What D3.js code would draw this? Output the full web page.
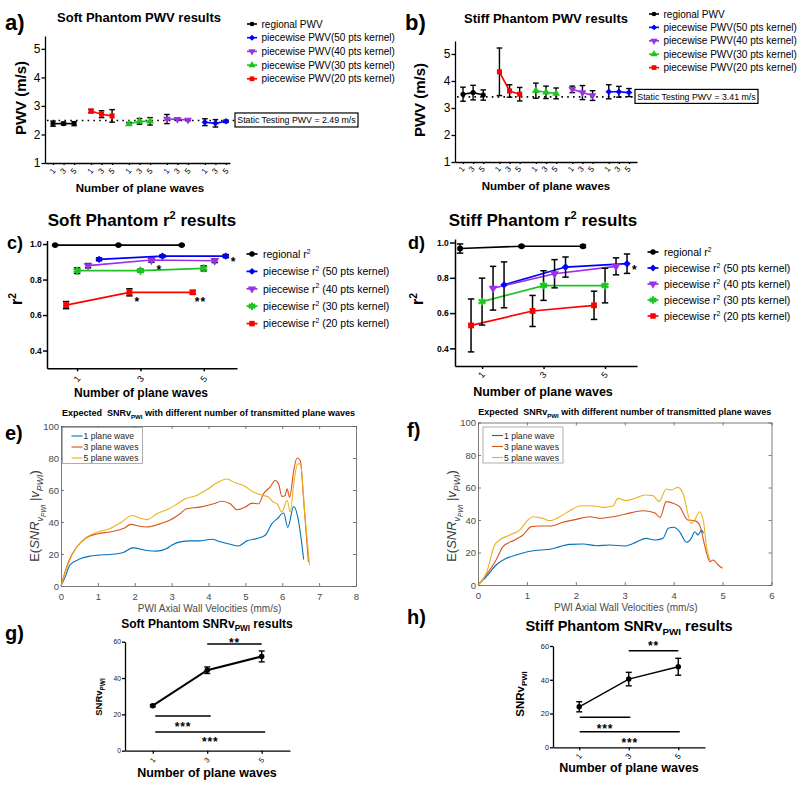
<!DOCTYPE html>
<html><head><meta charset="utf-8">
<script src="https://cdn.jsdelivr.net/npm/d3@7"></script>
<style>
body{margin:0;background:#fff}
svg{display:block}
</style>
</head><body>
<svg id="chart" width="800" height="785"></svg>
<script>
// ================= DATA =================
const planeWaves = [1, 3, 5];
// series order: regional, 50, 40, 30, 20 pts kernel
const pwvLegend = ["regional PWV", "piecewise PWV(50 pts kernel)", "piecewise PWV(40 pts kernel)", "piecewise PWV(30 pts kernel)", "piecewise PWV(20 pts kernel)"];
const r2LegendPrefix = ["regional r", "piecewise r", "piecewise r", "piecewise r", "piecewise r"];
const r2LegendSuffix = ["", " (50 pts kernel)", " (40 pts kernel)", " (30 pts kernel)", " (20 pts kernel)"];

const softPWVMean  = [[2.38, 2.38, 2.38], [2.43, 2.39, 2.46], [2.54, 2.53, 2.51], [2.37, 2.46, 2.46], [2.82, 2.71, 2.65]];
const softPWVErr   = [[0.09, 0.05, 0.07], [0.12, 0.13, 0.04], [0.16, 0.03, 0.03], [0.05, 0.10, 0.13], [0.06, 0.12, 0.22]];
const stiffPWVMean = [[3.51, 3.57, 3.48], [3.60, 3.60, 3.57], [3.69, 3.57, 3.46], [3.64, 3.58, 3.54], [4.34, 3.63, 3.51]];
const stiffPWVErr  = [[0.26, 0.27, 0.19], [0.26, 0.20, 0.15], [0.12, 0.26, 0.18], [0.28, 0.23, 0.20], [0.88, 0.23, 0.25]];
const staticPWV = [2.49, 3.41];
const staticLabels = ["Static Testing PWV = 2.49 m/s", "Static Testing PWV = 3.41 m/s"];
const pwvTicks = [1, 2, 3, 4, 5];

const softR2Mean  = [[0.994, 0.994, 0.994], [0.914, 0.932, 0.932], [0.878, 0.910, 0.906], [0.850, 0.850, 0.863], [0.656, 0.728, 0.728]];
const softR2Err   = [[0.003, 0.003, 0.003], [0.008, 0.007, 0.009], [0.012, 0.012, 0.010], [0.016, 0.008, 0.014], [0.020, 0.020, 0.010]];
const stiffR2Mean = [[0.966, 0.979, 0.979], [0.760, 0.861, 0.880], [0.741, 0.823, 0.865], [0.665, 0.756, 0.756], [0.530, 0.612, 0.644]];
const stiffR2Err  = [[0.026, 0.005, 0.007], [0.130, 0.057, 0.055], [0.124, 0.080, 0.048], [0.133, 0.084, 0.098], [0.150, 0.088, 0.080]];
const r2Ticks = [0.4, 0.6, 0.8, 1.0];
const softR2Stars  = [[1, 2, "*"], [2, 1, "*"], [4, 1, "*"], [4, 2, "**"]];
const stiffR2Stars = [[1, 2, "*"]];

const snrLegend = ["1 plane wave", "3 plane waves", "5 plane waves"];
const softSNR1 = [[0,0],[0.12,6],[0.24,13],[0.52,17],[0.79,18.7],[1.0,19.3],[1.33,19.7],[1.69,21],[1.95,23.8],[2.33,22.2],[2.6,21.8],[2.87,23.4],[3.0,25.5],[3.23,27.6],[3.5,28.2],[3.77,28.2],[4.09,29.2],[4.32,27.6],[4.59,26.1],[4.81,25],[5.04,28.2],[5.31,29.6],[5.54,31.7],[5.72,39],[5.86,42],[6.04,45.6],[6.15,36.6],[6.31,49.7],[6.43,42],[6.53,26.5],[6.58,16.6]];
const softSNR3 = [[0,0],[0.2,15],[0.43,24.5],[0.7,30.3],[1.0,32.7],[1.33,33.8],[1.69,35.9],[1.9,38.5],[2.1,37.5],[2.33,36.9],[2.64,38.5],[3.0,41.7],[3.23,45.2],[3.41,48.3],[3.77,49.3],[4.14,51.4],[4.36,53],[4.59,51.4],[4.77,47.7],[5.0,49.3],[5.18,51.8],[5.36,51.4],[5.49,57.6],[5.67,61.8],[5.81,65.9],[5.9,63.8],[5.99,56],[6.08,56.6],[6.13,60.7],[6.2,55.5],[6.31,72],[6.4,80],[6.49,78.3],[6.58,53.5],[6.71,15]];
const softSNR5 = [[0,0],[0.2,14],[0.43,24.5],[0.7,30.7],[1.0,33.8],[1.33,35.9],[1.65,40],[1.92,44.1],[2.14,42.5],[2.33,41.5],[2.6,45.2],[2.87,47.7],[3.09,50.4],[3.37,54.5],[3.68,56.6],[3.95,60.1],[4.23,64.5],[4.5,66.9],[4.72,64.5],[4.95,62.8],[5.22,58.7],[5.49,56.6],[5.63,55.5],[5.76,52.4],[5.86,51.4],[5.99,46.2],[6.13,53.5],[6.22,46.2],[6.31,63.8],[6.42,76.3],[6.49,76.3],[6.62,43.1],[6.74,13]];
const stiffSNR1 = [[0,0],[0.17,5.1],[0.37,12.3],[0.58,16.4],[0.78,18.5],[0.99,20.3],[1.26,21.5],[1.47,22],[1.67,23.6],[1.87,25],[2.15,25.2],[2.42,24.2],[2.69,24.6],[3.0,24],[3.17,25.6],[3.44,28.7],[3.61,27.7],[3.78,28.7],[3.89,34.9],[4.0,35.5],[4.12,32.8],[4.26,26.3],[4.36,28.7],[4.43,32.8],[4.5,30.8],[4.57,33.8],[4.61,31.8]];
const stiffSNR3 = [[0,0],[0.17,6.2],[0.37,15.4],[0.51,23.6],[0.75,27.7],[0.92,30.8],[1.09,35.9],[1.26,36.3],[1.47,36.3],[1.74,38.6],[2.01,40.4],[2.28,42],[2.49,41],[2.76,42],[3.0,43.5],[3.37,45.7],[3.61,44.5],[3.72,41.6],[3.85,51.3],[3.99,50.3],[4.12,48.2],[4.29,40],[4.43,39.6],[4.53,36.9],[4.64,23.6],[4.74,14.4],[4.81,15.4],[4.91,12.3],[5.0,10.3]];
const stiffSNR5 = [[0,0],[0.17,7.2],[0.34,24.6],[0.44,27.7],[0.65,30.8],[0.85,33.8],[1.02,40],[1.12,42],[1.33,41],[1.47,39.6],[1.67,42],[1.87,45.5],[2.08,48.6],[2.32,48.8],[2.56,47.8],[2.76,48.6],[2.86,53.3],[3.03,51.9],[3.24,53.7],[3.41,55.4],[3.58,55],[3.7,51.3],[3.85,59.1],[3.95,58.5],[4.09,60.1],[4.19,56.4],[4.36,37.9],[4.43,40],[4.53,45.1],[4.61,39],[4.67,23.6],[4.74,15.4]];
const snrYTicks = [0, 20, 40, 60, 80, 100];

const softSNRMean = [24.8, 44.3, 51.9];
const softSNRErr  = [0.6, 1.8, 3.0];
const stiffSNRMean = [24.0, 40.4, 47.7];
const stiffSNRErr  = [3.0, 4.0, 5.0];
const snrSummaryTicks = [0, 20, 40, 60];
const softSig  = [[3, 5, 58.7, "**"], [1, 3, 19.1, "***"], [1, 5, 10.3, "***"]];
const stiffSig = [[3, 5, 57.2, "**"], [1, 3, 17.8, "***"], [1, 5, 9.2, "***"]];

// ================= STYLE =================
const FONT = "'Liberation Sans', Arial, Helvetica, sans-serif";
const gpColors = ["#000000", "#0000ff", "#9b30e8", "#1ec31e", "#ff0000"];
const mlColors = ["#0072BD", "#D95319", "#EDB120"];
const pwvSymbols = ["circle", "diamond", "tridown", "triup", "square"];
const r2Symbols = ["circle", "diamond", "tridown", "asterisk", "square"];
const groupOrder = [0, 4, 3, 2, 1];   // x-group index of each series in PWV panels
const dodge = [-2, 2, 1, 0, -1];      // dodge of each series in r2 panels
const fmtInt = d3.format("d");

const svg = d3.select("#chart").attr("font-family", FONT);

function rich(t, parts, fs) {
  let cur = 0;
  for (const p of parts) {
    const [s, mode = "n", it = false] = Array.isArray(p) ? p : [p];
    let off = 0, size = fs;
    if (mode === "sup") { off = -0.4 * fs; size = 0.65 * fs; }
    else if (mode === "sub") { off = 0.28 * fs; size = 0.68 * fs; }
    else if (mode === "sub2") { off = 0.5 * fs; size = 0.5 * fs; }
    t.append("tspan").attr("dy", (off - cur).toFixed(2)).attr("font-size", size)
      .attr("font-style", it ? "italic" : null).text(s);
    cur = off;
  }
  return t;
}
function text(x, y, s, o = {}) {
  const t = svg.append("text").attr("x", x).attr("y", y)
    .attr("font-size", o.fs || 10).attr("font-weight", o.fw || "normal")
    .attr("fill", o.fill || "#000").attr("text-anchor", o.anchor || "start");
  if (o.rotate) t.attr("transform", `rotate(${o.rotate},${x},${y})`);
  if (o.ls) t.attr("letter-spacing", o.ls);
  if (o.pre) t.style("white-space", "pre");
  if (Array.isArray(s)) rich(t, s, o.fs || 10); else t.text(s);
  return t;
}
function marker(g, type, x, y, color, size) {
  let path, rot = 0, stroke = null;
  if (type === "circle") path = d3.symbol(d3.symbolCircle, size * 0.8)();
  else if (type === "square") path = d3.symbol(d3.symbolSquare, size)();
  else if (type === "diamond") { path = d3.symbol(d3.symbolSquare, size * 0.8)(); rot = 45; }
  else if (type === "triup") path = d3.symbol(d3.symbolTriangle, size)();
  else if (type === "tridown") { path = d3.symbol(d3.symbolTriangle, size)(); rot = 180; }
  else if (type === "asterisk") { path = d3.symbol(d3.symbolAsterisk, size * 1.3)(); stroke = 2.2; }
  const p = g.append("path").attr("d", path).attr("transform", `translate(${x},${y}) rotate(${rot})`);
  if (stroke) p.attr("fill", "none").attr("stroke", color).attr("stroke-width", stroke);
  else p.attr("fill", color);
}
function errBar(g, x, y0, y1, cap, sw) {
  g.append("line").attr("x1", x).attr("x2", x).attr("y1", y0).attr("y2", y1).attr("stroke", "#000").attr("stroke-width", sw);
  [y0, y1].forEach(yy => g.append("line").attr("x1", x - cap).attr("x2", x + cap).attr("y1", yy).attr("y2", yy).attr("stroke", "#000").attr("stroke-width", sw));
}
function gpAxis(gen, tx, ty, o) {
  const a = svg.append("g").attr("transform", `translate(${tx},${ty})`).call(gen);
  a.attr("font-family", FONT).attr("font-size", o.fs).attr("font-weight", o.fw || "normal");
  a.select(".domain").attr("stroke", "#000").attr("stroke-width", o.sw);
  a.selectAll(".tick line").attr("stroke", "#000").attr("stroke-width", o.sw);
  a.selectAll(".tick text").attr("fill", o.fill || "#000");
  return a;
}

// ================= PANELS a, b (PWV) =================
function pwvPanel(o) {
  const x = d3.scaleLinear().domain(o.xd).range([o.x0, o.x1]);
  const y = d3.scaleLinear().domain(o.yd).range([o.yb, o.yt]);
  const pos = (s, j) => groupOrder[s] * 3.6 + j;
  const g = svg.append("g");
  g.append("line").attr("x1", o.x0 + 2).attr("x2", o.boxX).attr("y1", y(o.stat)).attr("y2", y(o.stat))
    .attr("stroke", "#000").attr("stroke-width", 1.6).attr("stroke-dasharray", "1.6,4.2");
  gpAxis(d3.axisLeft(y).tickValues(pwvTicks).tickFormat(fmtInt).tickSizeInner(3.5).tickSizeOuter(0).tickPadding(1), o.x0, 0, { fs: 12, sw: 1.3 });
  const positions = [];
  for (let gi = 0; gi < 5; gi++) for (let j = 0; j < 3; j++) positions.push(gi * 3.6 + j);
  const ax = gpAxis(d3.axisBottom(x).tickValues(positions).tickSizeInner(2).tickSizeOuter(0).tickFormat((d, i) => planeWaves[i % 3]), 0, o.yb, { fs: 8, sw: 1.3 });
  ax.selectAll(".tick text").attr("y", 0).attr("dy", null).attr("x", 0).attr("text-anchor", "end")
    .attr("transform", `translate(${o.lblDx},${o.lblDy}) rotate(-50)`);
  for (let s = 0; s < 5; s++) {
    const pts = o.mean[s].map((v, j) => [x(pos(s, j)), y(v)]);
    g.append("path").attr("d", d3.line()(pts)).attr("fill", "none").attr("stroke", gpColors[s]).attr("stroke-width", 1.6);
    pts.forEach((p, j) => errBar(g, p[0], y(o.mean[s][j] - o.err[s][j]), y(o.mean[s][j] + o.err[s][j]), 2.8, 1.4));
    pts.forEach(p => marker(g, pwvSymbols[s], p[0], p[1], gpColors[s], 26));
  }
  const bx = o.boxX, bw = 123, bh = 14, by = y(o.stat) - 7.5;
  g.append("rect").attr("x", bx).attr("y", by).attr("width", bw).attr("height", bh).attr("fill", "#fff").attr("stroke", "#000").attr("stroke-width", 1.2);
  text(bx + bw / 2, by + 10.3, o.statLabel, { fs: 8.8, anchor: "middle" });
  for (let s = 0; s < 5; s++) {
    const yy = o.legY + s * o.legDy;
    g.append("line").attr("x1", o.legX - 5).attr("x2", o.legX + 5).attr("y1", yy).attr("y2", yy).attr("stroke", gpColors[s]).attr("stroke-width", 1.6);
    marker(g, pwvSymbols[s], o.legX, yy, gpColors[s], 22);
    text(o.legX + 9.5, yy + 3.6, pwvLegend[s], { fs: 10 });
  }
}
pwvPanel({ x0: 45, x1: 230, xd: [-0.76, 16.78], yd: [1, 5.45], yb: 163, yt: 36, mean: softPWVMean, err: softPWVErr,
  stat: staticPWV[0], statLabel: staticLabels[0], boxX: 235, legX: 252, legY: 24, legDy: 13.7, lblDx: 2.5, lblDy: 8 });
pwvPanel({ x0: 455, x1: 637, xd: [-0.79, 17.19], yd: [1, 5.48], yb: 162, yt: 41, mean: stiffPWVMean, err: stiffPWVErr,
  stat: staticPWV[1], statLabel: staticLabels[1], boxX: 635, legX: 654, legY: 14, legDy: 13.4, lblDx: 1.5, lblDy: 7 });

text(5, 30, "a)", { fs: 22, fw: "bold" });
text(405, 30, "b)", { fs: 22, fw: "bold" });
text(139, 22, "Soft Phantom PWV results", { fs: 13, fw: "bold", anchor: "middle" });
text(546, 23, "Stiff Phantom PWV results", { fs: 13, fw: "bold", anchor: "middle" });
text(25.5, 98, "PWV (m/s)", { fs: 15, fw: "bold", anchor: "middle", rotate: -90 });
text(425, 100, "PWV (m/s)", { fs: 15, fw: "bold", anchor: "middle", rotate: -90 });
text(140, 192, "Number of plane waves", { fs: 11.5, fw: "bold", anchor: "middle" });
text(546, 190, "Number of plane waves", { fs: 11.5, fw: "bold", anchor: "middle" });

// ================= PANELS c, d (r2) =================
function r2Panel(o) {
  const x = d3.scaleLinear().domain(o.xd).range([o.x0, o.x1]);
  const y = d3.scaleLinear().domain([0.3, 1.02]).range([o.yb, o.yt]);
  const g = svg.append("g");
  gpAxis(d3.axisLeft(y).tickValues(r2Ticks).tickFormat(d3.format(".1f")).tickSizeInner(o.tick).tickSizeOuter(0).tickPadding(1.2), o.x0, 0, { fs: 8.5, fw: "bold", sw: 1.5 });
  const ax = gpAxis(d3.axisBottom(x).tickValues(planeWaves).tickFormat(fmtInt).tickSizeInner(3).tickSizeOuter(0), 0, o.yb, { fs: 9, sw: 1.5 });
  ax.selectAll(".tick text").attr("y", 0).attr("dy", null).attr("x", 0).attr("text-anchor", "end")
    .attr("transform", `translate(${o.lblDx},${o.lblDy}) rotate(-50)`);
  const px = (s, j) => x(planeWaves[j]) + dodge[s] * 11;
  for (let s = 0; s < 5; s++) {
    const pts = o.mean[s].map((v, j) => [px(s, j), y(v)]);
    g.append("path").attr("d", d3.line()(pts)).attr("fill", "none").attr("stroke", gpColors[s]).attr("stroke-width", 1.7);
  }
  for (let s = 0; s < 5; s++) {
    o.mean[s].forEach((v, j) => errBar(g, px(s, j), y(v - o.err[s][j]), y(v + o.err[s][j]), 3.2, 1.5));
  }
  for (let s = 0; s < 5; s++) {
    o.mean[s].forEach((v, j) => marker(g, r2Symbols[s], px(s, j), y(v), gpColors[s], 34));
  }
  o.stars.forEach(([s, j, lab]) => {
    const dx = lab === "**" ? 2 : 5, dy = s === 1 ? 10 : 13.5;
    text(px(s, j) + dx, y(o.mean[s][j]) + dy, lab, { fs: 12, fw: "bold", ls: 1 });
  });
  for (let s = 0; s < 5; s++) {
    const yy = o.legY + s * o.legDy;
    g.append("line").attr("x1", o.legX - 5.5).attr("x2", o.legX + 5.5).attr("y1", yy).attr("y2", yy).attr("stroke", gpColors[s]).attr("stroke-width", 1.7);
    marker(g, r2Symbols[s], o.legX, yy, gpColors[s], 30);
    const parts = [r2LegendPrefix[s], ["2", "sup"]];
    if (r2LegendSuffix[s]) parts.push(r2LegendSuffix[s]);
    text(o.legX + 11, yy + 3.8, parts, { fs: 10.5 });
  }
}
r2Panel({ x0: 47, x1: 237, xd: [0.05, 6.05], yb: 368.3, yt: 240.5, mean: softR2Mean, err: softR2Err, stars: softR2Stars,
  tick: 4, legX: 252, legY: 254, legDy: 17.4, lblDx: 3.5, lblDy: 10.5 });
r2Panel({ x0: 455, x1: 637, xd: [0.12, 6.04], yb: 366, yt: 239, mean: stiffR2Mean, err: stiffR2Err, stars: stiffR2Stars,
  tick: 5, legX: 653, legY: 252, legDy: 16, lblDx: 3, lblDy: 9 });

text(7, 249, "c)", { fs: 18, fw: "bold" });
text(408, 249, "d)", { fs: 18, fw: "bold" });
text(142, 226, ["Soft Phantom r", ["2", "sup"], " results"], { fs: 17, fw: "bold", anchor: "middle" });
text(543, 226, ["Stiff Phantom r", ["2", "sup"], " results"], { fs: 17, fw: "bold", anchor: "middle" });
text(22, 299, ["r", ["2", "sup"]], { fs: 16, fw: "bold", anchor: "middle", rotate: -90 });
text(423, 299, ["r", ["2", "sup"]], { fs: 16, fw: "bold", anchor: "middle", rotate: -90 });
text(141, 397, "Number of plane waves", { fs: 12, fw: "bold", anchor: "middle" });
text(543, 396, "Number of plane waves", { fs: 12.5, fw: "bold", anchor: "middle" });

// ================= PANELS e, f (MATLAB curves) =================
function mlPanel(o) {
  const x = d3.scaleLinear().domain([0, o.xmax]).range([o.x0, o.x1]);
  const y = d3.scaleLinear().domain([0, 100]).range([o.yb, o.yt]);
  const g = svg.append("g");
  const axC = "#5a5a5a";
  const styleAx = (a, lab) => {
    a.attr("font-family", FONT).attr("font-size", 9.5);
    a.select(".domain").attr("stroke", axC).attr("stroke-width", 0.8);
    a.selectAll(".tick line").attr("stroke", axC).attr("stroke-width", 0.8);
    a.selectAll(".tick text").attr("fill", "#4a4a4a");
    if (!lab) a.selectAll(".tick text").remove();
  };
  const xt = d3.range(0, o.xmax + 1);
  styleAx(g.append("g").attr("transform", `translate(0,${o.yb})`).call(d3.axisBottom(x).tickValues(xt).tickFormat(fmtInt).tickSizeInner(-3).tickSizeOuter(0).tickPadding(7.5)), true);
  styleAx(g.append("g").attr("transform", `translate(0,${o.yt})`).call(d3.axisTop(x).tickValues(xt).tickSizeInner(-3).tickSizeOuter(0)), false);
  styleAx(g.append("g").attr("transform", `translate(${o.x0},0)`).call(d3.axisLeft(y).tickValues(snrYTicks).tickFormat(fmtInt).tickSizeInner(-3).tickSizeOuter(0).tickPadding(2)), true);
  styleAx(g.append("g").attr("transform", `translate(${o.x1},0)`).call(d3.axisRight(y).tickValues(snrYTicks).tickSizeInner(-3).tickSizeOuter(0)), false);
  const line = d3.line().x(d => x(d[0])).y(d => y(d[1])).curve(d3.curveMonotoneX);
  o.curves.forEach((c, i) => g.append("path").attr("d", line(c)).attr("fill", "none").attr("stroke", mlColors[i]).attr("stroke-width", 1.1));
  g.append("rect").attr("x", o.legX).attr("y", o.legY).attr("width", 80).attr("height", 36).attr("fill", "#fff").attr("stroke", "#8c8c8c").attr("stroke-width", 0.7);
  snrLegend.forEach((s, i) => {
    const yy = o.legY + 8.5 + i * 11;
    g.append("line").attr("x1", o.legX + 9).attr("x2", o.legX + 20).attr("y1", yy).attr("y2", yy).attr("stroke", mlColors[i]).attr("stroke-width", 1.1);
    text(o.legX + 21, yy + 3, s, { fs: 8.6, fill: "#262626" });
  });
  text((o.x0 + o.x1) / 2, o.titleY, ["Expected  SNRv", ["PWI", "sub"], " with different number of transmitted plane waves"], { fs: 9, fw: "bold", anchor: "middle", pre: true });
  text((o.x0 + o.x1) / 2 + 1, o.yb + 26, "PWI Axial Wall Velocities (mm/s)", { fs: 10, anchor: "middle", fill: "#4a4a4a" });
  text(o.ylabX, 516, ["E(", ["SNR", "n", true], ["v", "sub", true], ["PWI", "sub2", true], [" |", "n"], ["v", "n", true], ["PWI", "sub", true], [")", "n"]],
    { fs: 13, anchor: "middle", rotate: -90, fill: "#3a3a3a", pre: true });
}
mlPanel({ x0: 61, x1: 356, xmax: 8, yb: 586, yt: 426, curves: [softSNR1, softSNR3, softSNR5], legX: 62.5, legY: 427.5, titleY: 416, ylabX: 39 });
mlPanel({ x0: 478, x1: 771.5, xmax: 6, yb: 585, yt: 422.5, curves: [stiffSNR1, stiffSNR3, stiffSNR5], legX: 483, legY: 427, titleY: 415, ylabX: 456 });
text(5, 440, "e)", { fs: 20, fw: "bold" });
text(407, 437, "f)", { fs: 20, fw: "bold" });

// ================= PANELS g, h (SNR summary) =================
function snrPanel(o) {
  const x = d3.scaleLinear().domain(o.xd).range([o.x0, o.x1]);
  const y = d3.scaleLinear().domain([0, 60]).range([o.yb, o.yt]);
  const g = svg.append("g");
  gpAxis(d3.axisLeft(y).tickValues(snrSummaryTicks).tickFormat(fmtInt).tickSizeInner(3).tickSizeOuter(0).tickPadding(o.pad), o.x0, 0, { fs: o.tfs, sw: 1.3, fill: "#222" });
  const ax = gpAxis(d3.axisBottom(x).tickValues(planeWaves).tickFormat(fmtInt).tickSizeInner(3).tickSizeOuter(0), 0, o.yb, { fs: o.tfs + 0.5, sw: 1.3 });
  ax.selectAll(".tick text").attr("y", 0).attr("dy", null).attr("x", 0).attr("text-anchor", "end")
    .attr("transform", `translate(2.5,${o.lblDy}) rotate(-50)`);
  const pts = o.mean.map((v, j) => [x(planeWaves[j]), y(v)]);
  g.append("path").attr("d", d3.line()(pts)).attr("fill", "none").attr("stroke", "#000").attr("stroke-width", o.lw);
  pts.forEach((p, j) => errBar(g, p[0], y(o.mean[j] - o.err[j]), y(o.mean[j] + o.err[j]), 3, 1.4));
  pts.forEach(p => marker(g, "circle", p[0], p[1], "#000", 30));
  o.sig.forEach(([a, b, lev, lab], i) => {
    const yy = y(lev);
    const xa = x(a) + (i === 0 ? 0 : o.sigOff), xb = x(b) + (i === 0 ? 0 : o.sigOff + 1);
    g.append("line").attr("x1", xa).attr("x2", xb).attr("y1", yy).attr("y2", yy).attr("stroke", "#000").attr("stroke-width", 1.6);
    text((xa + xb) / 2, i === 0 ? yy + o.aboveDy : yy + o.belowDy, lab, { fs: 12, fw: "bold", anchor: "middle", ls: 0.8 });
  });
}
snrPanel({ x0: 125, x1: 290, xd: [-0.02, 6.04], yb: 750.7, yt: 641.7, mean: softSNRMean, err: softSNRErr, sig: softSig,
  pad: 1, tfs: 6.8, lblDy: 9.5, lw: 2, sigOff: 2.5, aboveDy: 2.5, belowDy: 14.5 });
snrPanel({ x0: 553, x1: 705, xd: [-0.06, 6.08], yb: 747.3, yt: 646, mean: stiffSNRMean, err: stiffSNRErr, sig: stiffSig,
  pad: 0.8, tfs: 7.5, lblDy: 9, lw: 1.4, sigOff: 0.5, aboveDy: -1, belowDy: 15.5 });

text(5, 640, "g)", { fs: 20, fw: "bold" });
text(407, 624, "h)", { fs: 20, fw: "bold" });
text(207, 628, ["Soft Phantom SNRv", ["PWI", "sub"], " results"], { fs: 12, fw: "bold", anchor: "middle" });
text(629, 631, ["Stiff Phantom SNRv", ["PWI", "sub"], " results"], { fs: 14.5, fw: "bold", anchor: "middle" });
text(102, 697, ["SNRv", ["PWI", "sub"]], { fs: 9.5, fw: "bold", anchor: "middle", rotate: -90 });
text(524, 694, ["SNRv", ["PWI", "sub"]], { fs: 11.5, fw: "bold", anchor: "middle", rotate: -90 });
text(207, 777, "Number of plane waves", { fs: 12.5, fw: "bold", anchor: "middle" });
text(629, 772, "Number of plane waves", { fs: 12.5, fw: "bold", anchor: "middle" });
</script>
</body></html>
